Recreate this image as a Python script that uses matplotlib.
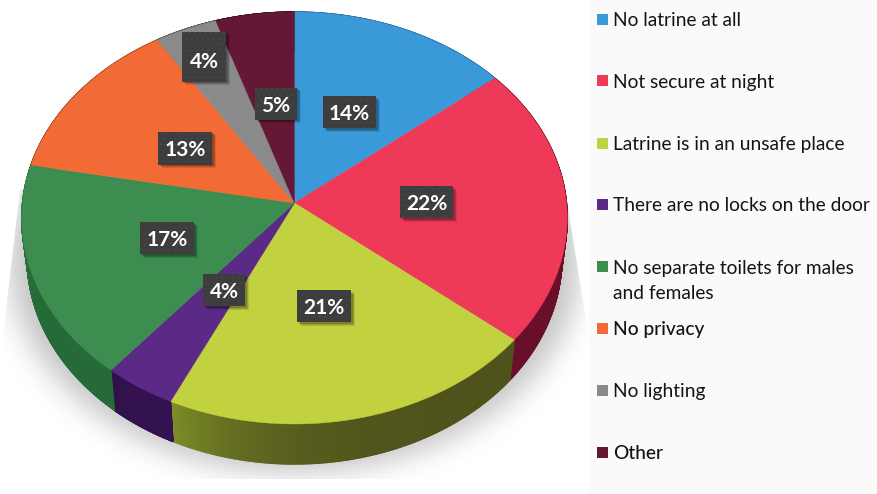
import numpy as np
import matplotlib
matplotlib.use("Agg")
import matplotlib.pyplot as plt
from matplotlib.collections import PolyCollection
from matplotlib.colors import to_rgb
from matplotlib.patches import Polygon, Rectangle

categories = ["No latrine at all", "Not secure at night", "Latrine is in an unsafe place",
              "There are no locks on the door", "No separate toilets for males\nand females",
              "No privacy", "No lighting", "Other"]
values = [14, 22, 21, 4, 17, 13, 4, 5]

top_colors = ["#3a9ad9", "#ee3a58", "#c2d13f", "#5a2a86", "#3e8d50", "#f26a35", "#8a8a8a", "#651736"]
side_start = ["#1f5a85", "#6a0f2a", "#4f531b", "#34124f", "#256a38", "#8a3c1e", "#4c4c4c", "#3a0c1f"]
side_end = ["#1f5a85", "#6a0f2a", "#7d8d28", "#2f1048", "#2f7f45", "#8a3c1e", "#4c4c4c", "#3a0c1f"]

# label centres and box sizes in pixels
label_x = [349.5, 426.5, 324, 224, 167, 185, 204, 276]
label_y = [112, 202, 306, 290, 238, 148, 57, 104]
label_w = [53, 53, 54, 42, 54, 54, 44, 42]
label_h = [32, 32, 32, 32, 32, 33, 50, 32]

legend_swatch_y = [14, 75, 138, 199, 261, 323, 385, 447]
legend_base_y = [26, 88, 150, 211, 274, 335, 397, 459]
legend_weight = ["normal", "normal", "normal", "normal", "normal", "medium", "normal", "medium"]

# perspective disc: apex of the slices, tilt and radii
CX, CY = 294.5, 203
TILT = 0.0728
RX, RY = 272, 204.9
DEPTH = 40
SHRINK = 0.98

plt.rcParams["font.family"] = ["Lato", "DejaVu Sans"]
plt.rcParams["hatch.linewidth"] = 0.6


def rim(frac):
    # frac runs clockwise from twelve o'clock, 1.0 is a full turn
    t = 2 * np.pi * np.asarray(frac)
    den = 1 + TILT * np.cos(t)
    return CX + RX * np.sin(t) / den, CY - RY * np.cos(t) / den


def blur(img, sigma):
    r = int(3 * sigma)
    k = np.exp(-0.5 * (np.arange(-r, r + 1) / sigma) ** 2)
    k = k / k.sum()
    img = np.apply_along_axis(lambda m: np.convolve(m, k, mode="same"), 0, img)
    img = np.apply_along_axis(lambda m: np.convolve(m, k, mode="same"), 1, img)
    return img


fig = plt.figure(figsize=(8.77, 4.94), dpi=100, facecolor="white")
ax = fig.add_axes([0, 0, 1, 1])

# soft drop shadow, clipped to a trapezoid under the disc
yy, xx = np.mgrid[0:494, 0:877]
mask = (((xx - 294) / 285.0) ** 2 + ((yy - 262) / 210.0) ** 2 <= 1).astype(float)
shade = blur(mask, 14)
grey = 1 - 0.23 * shade
im = ax.imshow(grey, cmap="gray", vmin=0, vmax=1, extent=(0, 877, 494, 0), aspect="auto",
               interpolation="bilinear", zorder=1)
clip = Polygon([(20, 190), (3, 335), (3, 479), (590, 479), (590, 345), (562, 170)],
               transform=ax.transData, fill=False, edgecolor="none")
ax.add_patch(clip)
im.set_clip_path(clip)

# legend panel
ax.add_patch(Rectangle((589, 0), 288, 494, facecolor="#fafafa", edgecolor="none", zorder=2))

# side wall first, the top face hides the back part of it
edges = np.concatenate([[0], np.cumsum(values)]) / sum(values)
for i in range(len(values)):
    fr = np.linspace(edges[i], edges[i + 1], 300)
    x, y = rim(fr)
    lx = CX + SHRINK * (x - CX)
    ly = y + DEPTH
    quads = []
    cols = []
    c0, c1 = np.array(to_rgb(side_start[i])), np.array(to_rgb(side_end[i]))
    for j in range(len(fr) - 1):
        quads.append([(x[j], y[j]), (x[j + 1], y[j + 1]), (lx[j + 1], ly[j + 1]), (lx[j], ly[j])])
        t = (j / (len(fr) - 2)) ** 4
        cols.append(c0 + (c1 - c0) * t)
    ax.add_collection(PolyCollection(quads, facecolors=cols, edgecolors=cols, linewidths=1.0, zorder=3))

# top face
for i in range(len(values)):
    fr = np.linspace(edges[i], edges[i + 1], 80)
    x, y = rim(fr)
    pts = np.column_stack([np.r_[CX, x], np.r_[CY, y]])
    ax.add_patch(Polygon(pts, closed=True, facecolor=top_colors[i], edgecolor=top_colors[i],
                         linewidth=0.3, zorder=4))

# percentage boxes, each with a small offset shadow
for i, v in enumerate(values):
    w, h = label_w[i], label_h[i]
    left, bottom = label_x[i] - w / 2, label_y[i] - h / 2
    for off, alpha in [(3.5, 0.10), (2.5, 0.14), (1.5, 0.18)]:
        ax.add_patch(Rectangle((left + off, bottom + off), w, h, facecolor="black", alpha=alpha,
                               edgecolor="none", zorder=5))
    ax.add_patch(Rectangle((left, bottom), w, h, facecolor="#3d3d3d", edgecolor="#474747",
                           hatch="...", linewidth=0, zorder=5))
    ty = label_y[i] + (3 if h > 40 else 0)
    ax.text(label_x[i], ty, f"{v}%", color="white", fontsize=15, fontweight="bold",
            ha="center", va="center_baseline", zorder=6)

# legend
for i, name in enumerate(categories):
    ax.add_patch(Rectangle((597, legend_swatch_y[i]), 11, 11, facecolor=top_colors[i],
                           edgecolor="none", zorder=5))
    for j, line in enumerate(name.split("\n")):
        ax.text(613, legend_base_y[i] + j * 24.5, line, color="#141414", fontsize=13.8,
                fontweight=legend_weight[i], ha="left", va="baseline", zorder=5)

ax.set_xlim(0, 877)
ax.set_ylim(494, 0)
ax.axis("off")

fig.savefig("out.png", dpi=100)
